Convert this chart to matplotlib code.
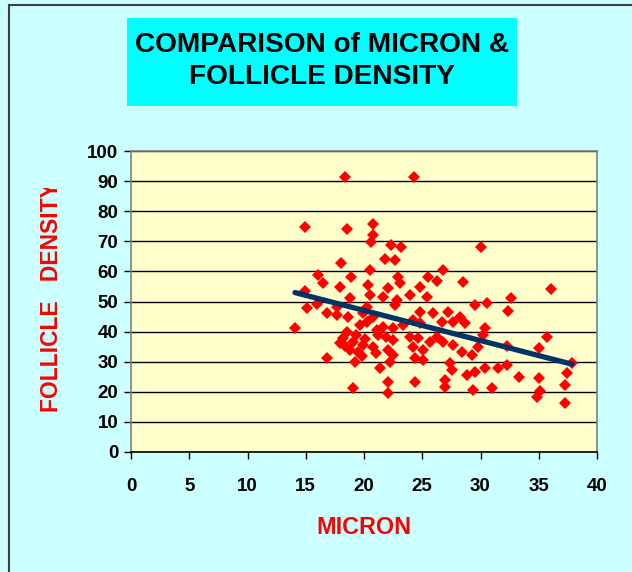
import numpy as np
import matplotlib
matplotlib.use("Agg")
import matplotlib.pyplot as plt
from matplotlib.patches import Rectangle

plt.rcParams['font.family'] = ['Liberation Sans', 'DejaVu Sans']
plt.rcParams['font.weight'] = 'bold'

# values (micron, follicle density)
micron = [18.37, 24.29, 14.94, 18.54, 20.77, 20.77, 20.60, 22.32, 23.18, 30.04,
          21.80, 22.66, 18.03, 20.52, 26.78, 22.92, 25.49, 16.05, 18.88, 36.05,
          14.94, 15.11, 16.48, 15.97, 16.82, 14.08, 16.82,
          32.62, 32.36, 35.71, 35.02, 32.27, 37.85, 37.42, 37.25, 37.25, 35.02,
          35.11, 34.85, 33.30,
          17.94, 18.80, 20.34, 20.52, 22.06, 23.09, 21.63, 22.83, 23.95, 24.81,
          25.41, 17.68, 18.63, 19.91, 20.77, 19.66, 20.26, 21.12, 21.63, 22.49,
          23.35, 24.21, 24.81, 23.95, 24.64, 18.20, 19.06, 17.94, 18.80, 19.91,
          19.48, 20.77, 21.20, 22.49, 22.06, 22.49, 22.23, 21.37, 19.23, 24.21,
          24.38, 25.06, 25.06, 24.38, 22.06, 22.06, 19.06, 17.68, 20.26, 22.66,
          24.81, 18.50, 19.30, 20.10, 21.00, 19.80, 18.40, 21.90,
          26.27, 28.50, 29.53, 30.56, 25.92, 27.21, 28.24, 28.67, 27.64, 26.70,
          30.39, 30.21, 26.27, 25.67, 26.78, 27.64, 28.41, 29.27, 29.79, 27.38,
          27.55, 26.95, 26.95, 28.84, 29.53, 30.39, 31.50, 32.27, 29.36, 30.99]
density = [91.36, 91.36, 74.75, 74.09, 75.75, 72.09, 69.77, 68.77, 68.11, 68.11,
           64.12, 63.79, 62.79, 60.47, 60.47, 58.14, 58.14, 58.80, 58.14, 54.15,
           53.49, 47.84, 56.15, 49.17, 46.18, 41.20, 31.23,
           51.16, 46.84, 38.21, 34.55, 35.22, 29.57, 26.25, 22.26, 16.28, 24.58,
           20.27, 18.27, 24.92,
           54.82, 51.16, 55.48, 52.16, 54.49, 56.15, 51.50, 50.50, 52.16, 54.82,
           51.50, 45.51, 44.85, 46.18, 44.85, 42.19, 43.19, 40.53, 41.53, 41.20,
           42.19, 43.85, 42.86, 38.21, 37.87, 37.87, 36.54, 36.21, 33.89, 35.55,
           33.22, 34.88, 38.87, 37.21, 33.89, 32.23, 29.90, 27.91, 29.90, 34.88,
           31.23, 30.56, 33.89, 23.26, 23.26, 19.60, 21.26, 48.17, 48.17, 48.84,
           46.51, 40.00, 38.80, 37.50, 33.00, 31.80, 35.20, 38.30,
           56.81, 56.48, 48.84, 49.50, 46.18, 46.51, 44.85, 42.86, 43.19, 43.19,
           41.20, 38.87, 38.21, 36.54, 36.54, 35.55, 33.22, 32.23, 34.88, 29.57,
           27.24, 23.92, 21.59, 25.58, 26.58, 27.91, 27.91, 28.90, 20.60, 21.26]

micron = np.array(micron)
density = np.array(density)

# linear trendline like Excel
slope, intercept = np.polyfit(micron, density, 1)
trend_x = np.array([micron.min(), micron.max()])
trend_y = slope * trend_x + intercept

fig = plt.figure(figsize=(6.32, 5.72), dpi=100)
fig.patch.set_facecolor('#CCFFFF')

# outer chart border (left and top visible)
fig.patches.append(Rectangle((9 / 632, -0.05), 1.0, (572 - 5) / 572 + 0.05,
                             transform=fig.transFigure, fill=False,
                             edgecolor='#404040', linewidth=1.5))

# title box
fig.patches.append(Rectangle((127 / 632, (572 - 106) / 572), 390 / 632, 88 / 572,
                             transform=fig.transFigure, facecolor='#00FFFF',
                             edgecolor='none'))
fig.text(322 / 632, 1 - 61 / 572, "COMPARISON of MICRON &\nFOLLICLE DENSITY",
         ha='center', va='center', fontsize=20.2, fontweight='bold',
         linespacing=1.32, color='black')

ax = fig.add_axes([131 / 632, (572 - 452) / 572, 466 / 632, 301 / 572])
ax.set_facecolor('#FFFFCC')

ax.plot(micron, density, linestyle='none', marker='D', color='#FF0000',
        markersize=6.5, markeredgewidth=0, zorder=3)
ax.plot(trend_x, trend_y, color='#003366', linewidth=3.8,
        solid_capstyle='round', zorder=4)

ax.set_xlim(0, 40)
ax.set_ylim(0, 100)
ax.set_xticks(np.arange(0, 41, 5))
ax.set_yticks(np.arange(0, 101, 10))
ax.yaxis.grid(True, color='black', linewidth=1)
ax.set_axisbelow(True)
ax.tick_params(axis='both', direction='out', length=5, width=1,
               labelsize=13.5, colors='black')
ax.tick_params(axis='x', pad=14)
ax.tick_params(axis='y', pad=4)
for lab in ax.get_xticklabels() + ax.get_yticklabels():
    lab.set_fontweight('bold')

for side in ['top', 'right', 'left']:
    ax.spines[side].set_color('#808080')
    ax.spines[side].set_linewidth(1.2)
ax.spines['bottom'].set_color('black')
ax.spines['bottom'].set_linewidth(1.2)

fig.text(364 / 632, 1 - 527 / 572, "MICRON", ha='center', va='center',
         fontsize=16.8, fontweight='bold', color='#FF0000')

# y label runs past the top of its box in the original, so cover the end
fig.text(52 / 632, 1 - 412 / 572, "FOLLICLE   DENSITY", rotation=90,
         ha='center', va='bottom', fontsize=16.5, fontweight='bold',
         color='#FF0000', zorder=3)
fig.add_artist(Rectangle((30 / 632, (572 - 188) / 572), 45 / 632, 50 / 572,
                         transform=fig.transFigure, facecolor='#CCFFFF',
                         edgecolor='none', zorder=5))

fig.savefig("out.png", dpi=100, facecolor=fig.get_facecolor())
